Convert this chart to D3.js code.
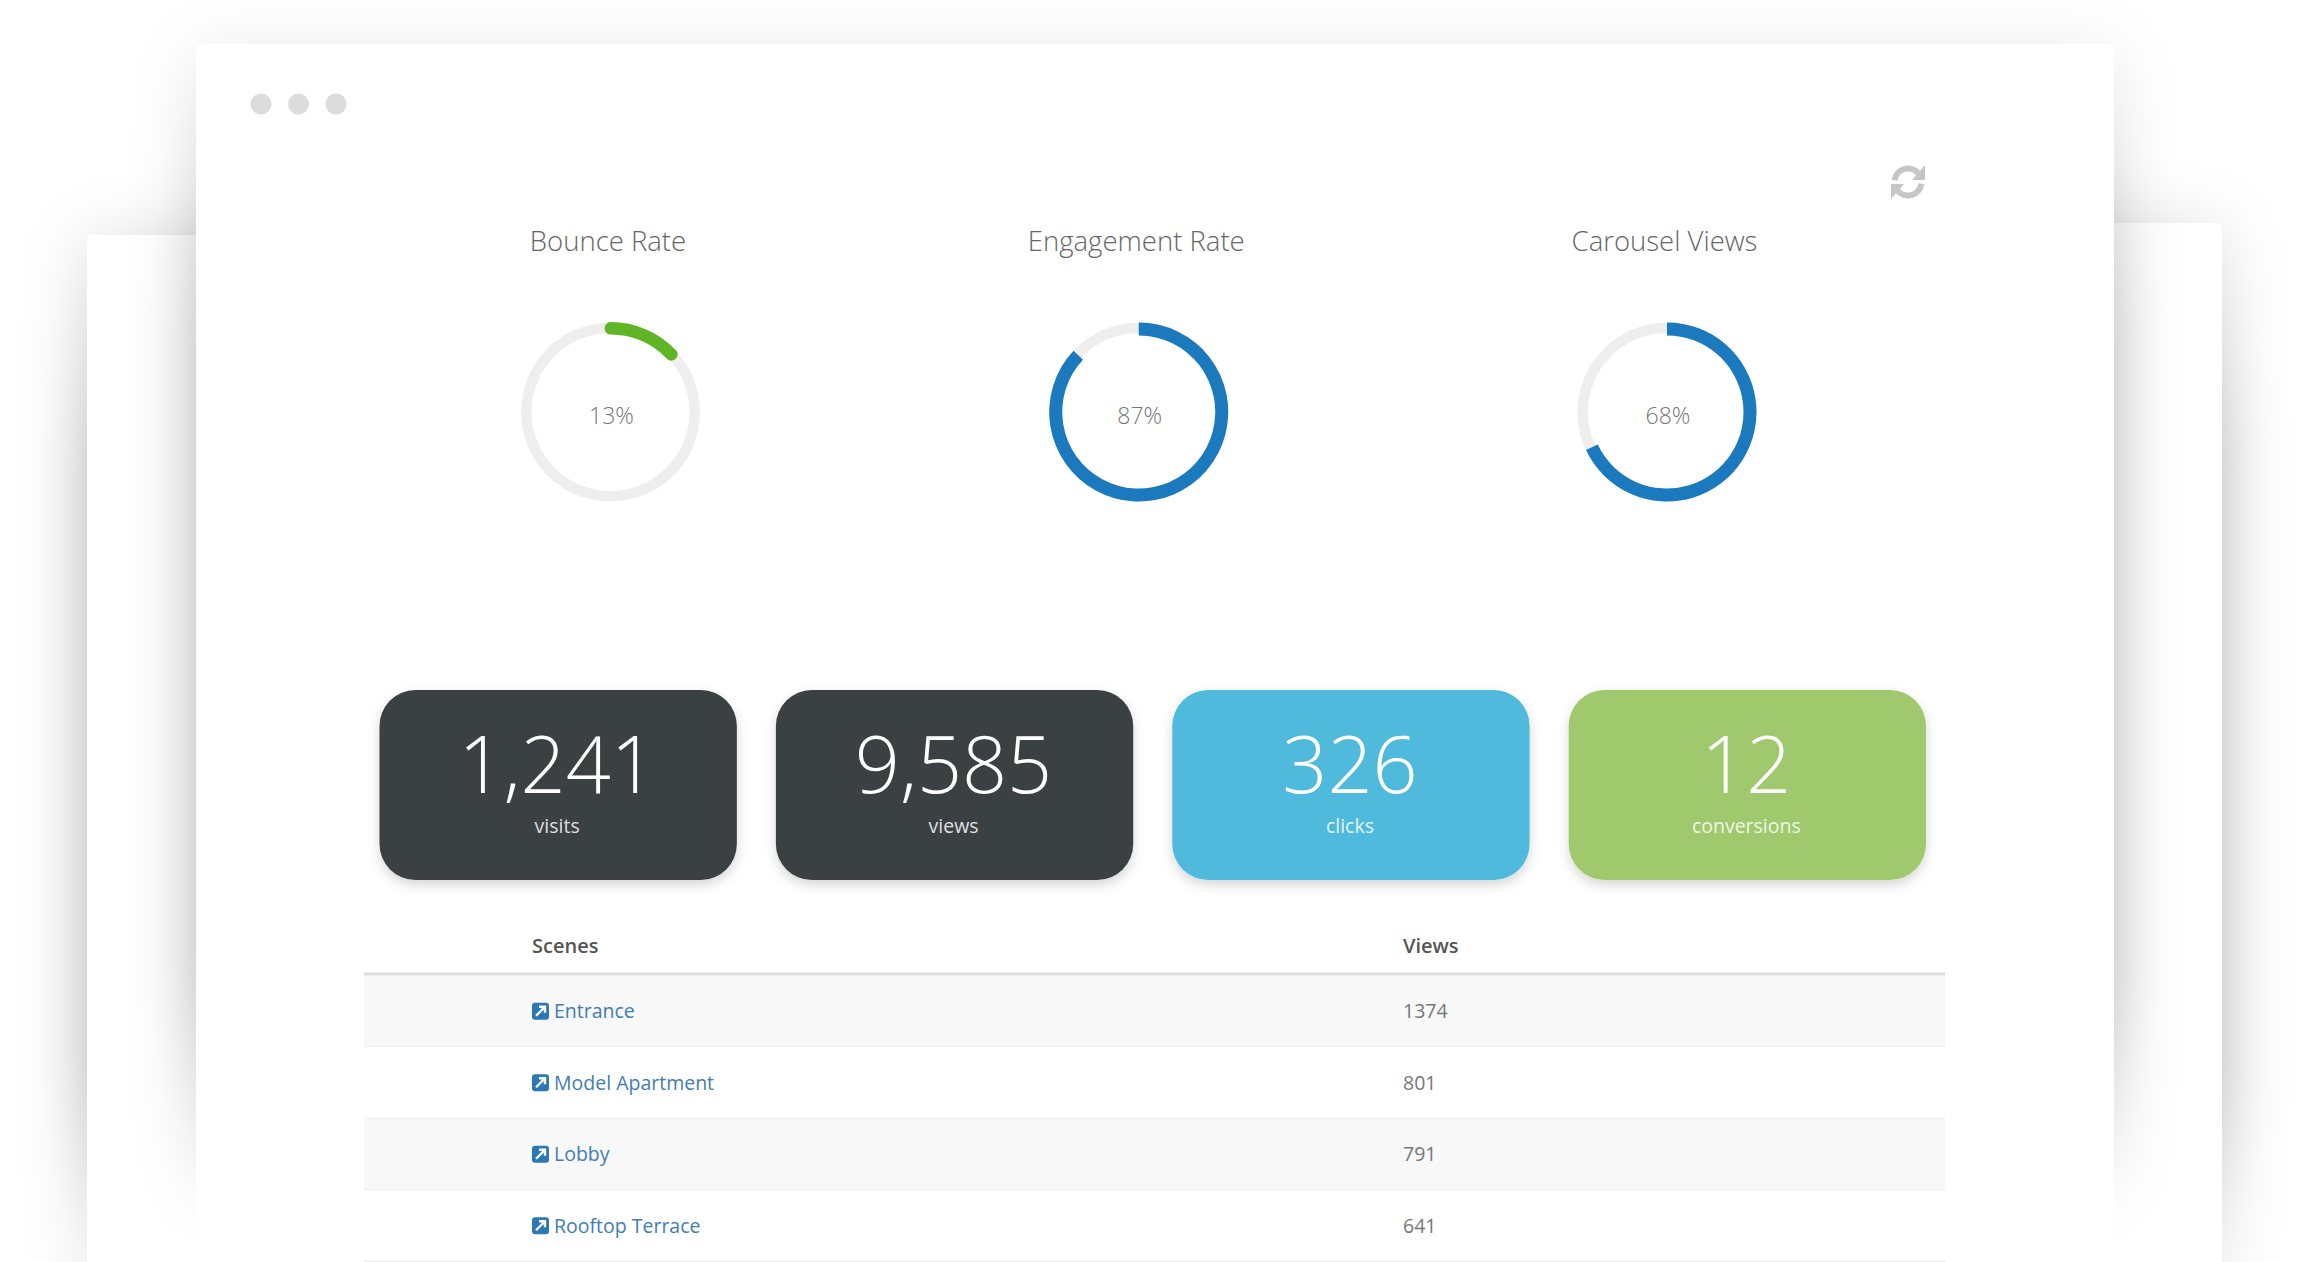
<!DOCTYPE html>
<html>
<head>
  <meta charset="utf-8">
  <title>Scene analytics</title>
  <style>
    body { margin: 0; background: #fff; }
    svg { display: block; }
    text { font-family: "Open Sans", sans-serif; }
  </style>
</head>
<body>
<script src="https://cdnjs.cloudflare.com/ajax/libs/d3/7.8.5/d3.min.js"></script>
<div id="vis"></div>
<script>
// gauges
var gaugeNames = ["Bounce Rate", "Engagement Rate", "Carousel Views"]
var gaugeValues = [13, 87, 68]
var gaugeColors = ["#5fb526", "#1b79bd", "#1b79bd"]

// stat cards
var cardLabels = ["visits", "views", "clicks", "conversions"]
var cardValues = [1241, 9585, 326, 12]
var cardColors = ["#3a3f43", "#3a3f43", "#4fbadc", "#a0c96e"]

// table
var tableHeaders = ["Scenes", "Views"]
var sceneNames = ["Entrance", "Model Apartment", "Lobby", "Rooftop Terrace"]
var sceneViews = [1374, 801, 791, 641]

var w = 2309, h = 1262

var svg = d3.select("div#vis").append("svg")
  .attr("width", w)
  .attr("height", h)

var defs = svg.append("defs")

var blur = defs.append("filter").attr("id", "blur")
  .attr("x", "-20%").attr("y", "-20%").attr("width", "140%").attr("height", "140%")
blur.append("feGaussianBlur").attr("stdDeviation", 32)

var cardShadow = defs.append("filter").attr("id", "cardShadow")
  .attr("x", "-10%").attr("y", "-10%").attr("width", "120%").attr("height", "130%")
cardShadow.append("feDropShadow").attr("dx", 0).attr("dy", 5).attr("stdDeviation", 6)
  .attr("flood-color", "#000").attr("flood-opacity", 0.16)

// shadow strength down the page for one sheet, [y, opacity]
function fadeFor(id, stops) {
  var g = defs.append("linearGradient").attr("id", id)
    .attr("gradientUnits", "userSpaceOnUse")
    .attr("x1", 0).attr("y1", 0).attr("x2", 0).attr("y2", h)
  stops.forEach(function(s) {
    g.append("stop").attr("offset", s[0] / h)
      .attr("stop-color", "#000").attr("stop-opacity", s[1])
  })
}
fadeFor("fadeBack", [[235, 0.1], [450, 0.31], [1080, 0.31], [1262, 0.07]])
fadeFor("fadeFront", [[44, 0.05], [320, 0.31], [985, 0.31], [1215, 0]])

// window sheets, the two at the back first
function sheet(x, y, x2, y2, fade) {
  svg.append("rect").attr("x", x).attr("y", y)
    .attr("width", x2 - x).attr("height", y2 - y + 120)
    .attr("fill", "url(#" + fade + ")").attr("filter", "url(#blur)")
  svg.append("rect").attr("x", x).attr("y", y).attr("rx", 5)
    .attr("width", x2 - x).attr("height", y2 - y + 20)
    .attr("fill", "#fff")
}
sheet(87, 235, 1000, 1262, "fadeBack")
sheet(1300, 223, 2222, 1262, "fadeBack")
sheet(196, 44, 2114, 1262, "fadeFront")

// window dots
svg.selectAll("circle.dot").data([0, 1, 2]).enter().append("circle")
  .attr("class", "dot")
  .attr("cx", function(d) { return 261 + d * 37.5 })
  .attr("cy", 104)
  .attr("r", 10.5)
  .attr("fill", "#dcdcdc")

// refresh icon
var refresh = svg.append("g").attr("transform", "translate(1908,182)")
  .attr("fill", "#c6c6c6")
var refreshArc = d3.arc().innerRadius(10.5).outerRadius(16.5)
refresh.append("path").attr("d", refreshArc({ startAngle: -1.45, endAngle: 0.95 }))
refresh.append("path").attr("d", refreshArc({ startAngle: 1.7, endAngle: 4.1 }))
refresh.append("path").attr("d", "M4,-2 L17,-2 L17,-17 Z")
refresh.append("path").attr("d", "M-4,2 L-17,2 L-17,17 Z")

// gauges
var gaugeX = d3.scalePoint().domain(gaugeNames).range([610.5, 1667])
var angle = d3.scaleLinear().domain([0, 100]).range([0, 2 * Math.PI])
var track = d3.arc().innerRadius(79).outerRadius(89.5)
var ring = d3.arc().innerRadius(76.5).outerRadius(89.5)
var capRing = d3.arc().innerRadius(77.5).outerRadius(90).cornerRadius(6)

var gauges = svg.selectAll("g.gauge").data(gaugeNames).enter().append("g")
  .attr("class", "gauge")
  .attr("transform", function(d) { return "translate(" + gaugeX(d) + ",412)" })

gauges.append("path")
  .attr("d", track({ startAngle: 0, endAngle: 2 * Math.PI }))
  .attr("fill", "#eeeeee")

gauges.append("path")
  .attr("d", function(d, i) {
    var a = angle(gaugeValues[i])
    // the green one has round ends that reach past its value
    return i === 0 ? capRing({ startAngle: -0.07, endAngle: a + 0.07 }) : ring({ startAngle: 0, endAngle: a })
  })
  .attr("fill", function(d, i) { return gaugeColors[i] })

gauges.append("text")
  .attr("x", 1)
  .attr("y", 12)
  .attr("text-anchor", "middle")
  .attr("font-size", 23)
  .attr("font-weight", 300)
  .attr("fill", "#777")
  .text(function(d, i) { return gaugeValues[i] + "%" })

gauges.append("text")
  .attr("x", -2.5)
  .attr("y", -161)
  .attr("text-anchor", "middle")
  .attr("font-size", 27.5)
  .attr("font-weight", 300)
  .attr("fill", "#666")
  .text(function(d) { return d })

// stat cards
var cardX = d3.scaleBand().domain(cardLabels).range([379.5, 1926]).paddingInner(0.0985)
var comma = d3.format(",")

var cards = svg.selectAll("g.card").data(cardLabels).enter().append("g")
  .attr("class", "card")
  .attr("transform", function(d) { return "translate(" + cardX(d) + ",690)" })

cards.append("rect")
  .attr("width", cardX.bandwidth())
  .attr("height", 190)
  .attr("rx", 36)
  .attr("fill", function(d, i) { return cardColors[i] })
  .attr("filter", "url(#cardShadow)")

cards.append("text")
  .attr("x", cardX.bandwidth() / 2 - 1)
  .attr("y", 103)
  .attr("text-anchor", "middle")
  .attr("font-size", 79)
  .attr("font-weight", 300)
  .attr("fill", "#fff")
  .text(function(d, i) { return comma(cardValues[i]) })

cards.append("text")
  .attr("x", cardX.bandwidth() / 2 - 1)
  .attr("y", 143)
  .attr("text-anchor", "middle")
  .attr("font-size", 19.5)
  .attr("fill", "#fff")
  .attr("fill-opacity", 0.85)
  .text(function(d) { return d })

// table
var tableL = 364, tableR = 1945, nameX = 532, viewsX = 1403
var rowY = d3.scaleBand().domain(sceneNames).range([975.5, 1261.5])

svg.selectAll("text.head").data(tableHeaders).enter().append("text")
  .attr("class", "head")
  .attr("x", function(d, i) { return i === 0 ? nameX : viewsX })
  .attr("y", 953)
  .attr("font-size", 20)
  .attr("font-weight", 600)
  .attr("fill", "#555")
  .text(function(d) { return d })

var rows = svg.selectAll("g.row").data(sceneNames).enter().append("g")
  .attr("class", "row")
  .attr("transform", function(d) { return "translate(0," + rowY(d) + ")" })

rows.append("rect")
  .attr("x", tableL)
  .attr("width", tableR - tableL)
  .attr("height", rowY.bandwidth())
  .attr("fill", function(d, i) { return i % 2 === 0 ? "#f8f8f8" : "#fff" })

rows.append("line")
  .attr("x1", tableL).attr("x2", tableR)
  .attr("y1", rowY.bandwidth()).attr("y2", rowY.bandwidth())
  .attr("stroke", "#eeeeee")
  .attr("stroke-width", 2)

svg.append("line")
  .attr("x1", tableL).attr("x2", tableR)
  .attr("y1", 974).attr("y2", 974)
  .attr("stroke", "#dcdcdc")
  .attr("stroke-width", 3)

var icon = rows.append("g")
  .attr("transform", "translate(" + nameX + "," + (rowY.bandwidth() / 2 - 8.5) + ")")
icon.append("rect")
  .attr("width", 17).attr("height", 17).attr("rx", 3)
  .attr("fill", "#2a78b8")
icon.append("path")
  .attr("d", "M4,13 L12,5 M7,4 L13,4 L13,10")
  .attr("fill", "none")
  .attr("stroke", "#fff")
  .attr("stroke-width", 2.4)

rows.append("text")
  .attr("x", nameX + 22)
  .attr("y", rowY.bandwidth() / 2 + 7)
  .attr("font-size", 19.5)
  .attr("fill", "#3f7db5")
  .text(function(d) { return d })

rows.append("text")
  .attr("x", viewsX)
  .attr("y", rowY.bandwidth() / 2 + 7)
  .attr("font-size", 19.5)
  .attr("fill", "#777")
  .text(function(d, i) { return sceneViews[i] })
</script>
</body>
</html>
